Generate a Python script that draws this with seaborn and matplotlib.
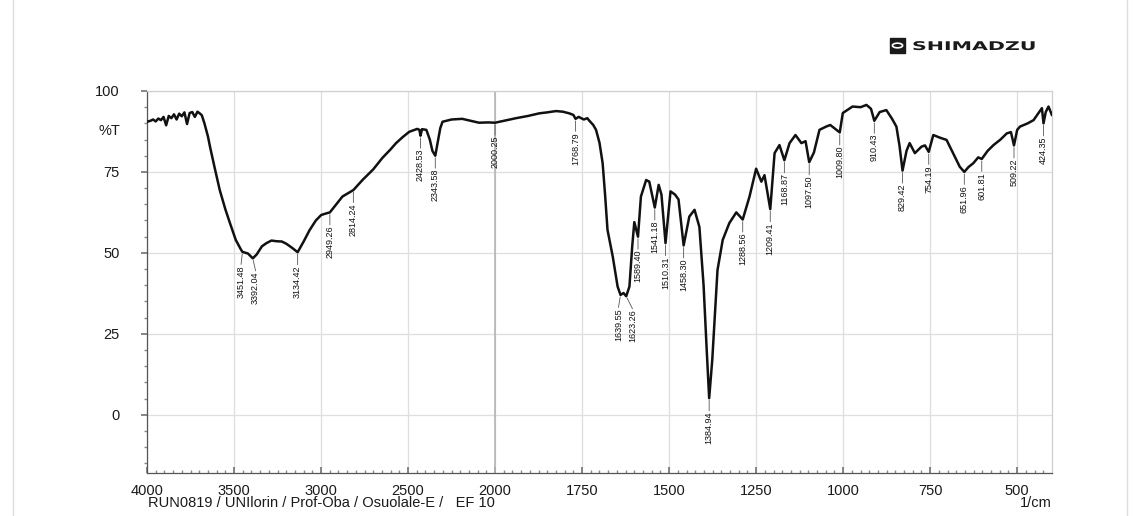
import numpy as np
import pandas as pd
import matplotlib
matplotlib.use("Agg")
import matplotlib.pyplot as plt
import seaborn as sns
from matplotlib.lines import Line2D
from matplotlib.patches import Rectangle, Circle, PathPatch
from matplotlib.textpath import TextPath
from matplotlib.font_manager import FontProperties
from matplotlib.transforms import Affine2D, IdentityTransform, blended_transform_factory

# spectrum (1/cm, %T)
wavenumber = [
    4000, 3980, 3965, 3950, 3935, 3920, 3905, 3890, 3875, 3860, 3845, 3830,
    3815, 3800, 3785, 3770, 3755, 3740, 3725, 3710, 3695, 3685, 3670, 3650,
    3638, 3610, 3582, 3550, 3524, 3490, 3460, 3451.48, 3420, 3392.04, 3370,
    3340, 3314, 3285, 3257, 3225, 3199, 3165, 3134.42, 3100, 3066, 3030, 2999,
    2970, 2949.26, 2920, 2877, 2840, 2814.24, 2762, 2700, 2648, 2600, 2569,
    2530, 2493, 2447, 2435, 2428.53, 2420, 2395, 2375, 2360, 2343.58, 2330,
    2315, 2302, 2250, 2189, 2140, 2092, 2040, 2000.25, 1970, 1940, 1905, 1873,
    1850, 1825, 1805, 1787, 1775, 1768.79, 1760, 1745, 1735, 1729, 1718, 1710,
    1700, 1691, 1684, 1677, 1662, 1648, 1639.55, 1631, 1623.26, 1614, 1606,
    1600, 1589.40, 1581, 1566, 1557, 1541.18, 1530, 1522, 1510.31, 1496, 1483,
    1473, 1458.30, 1442, 1427, 1413, 1401, 1392, 1384.94, 1376, 1361, 1346,
    1327, 1307, 1288.56, 1269, 1250, 1235, 1226, 1209.41, 1197, 1183, 1168.87,
    1154, 1137, 1120, 1108, 1097.50, 1084, 1068, 1049, 1037, 1025, 1009.80,
    1001, 973, 950, 933, 920, 910.43, 895, 876, 860, 847, 838, 829.42, 818,
    809, 794, 775, 765, 754.19, 741, 720, 703, 685, 665, 651.96, 640, 626, 612,
    601.81, 585, 568, 548, 530, 518, 509.22, 500, 492, 470, 453, 440, 429,
    424.35, 418, 410, 400,
]
transmittance = [
    90.5, 90.8, 91.2, 90.6, 91.5, 91.0, 92.0, 89.4, 92.3, 91.6, 92.8, 91.2,
    93.0, 92.2, 93.4, 89.8, 93.2, 93.5, 92.0, 93.6, 93.0, 92.5, 90.0, 86.0,
    82.8, 76.0, 69.4, 63.5, 59.3, 54.0, 51.0, 50.3, 49.8, 48.3, 49.5,
    52.0, 53.0, 53.8, 53.6, 53.5, 52.8, 51.5, 50.2, 53.5, 57.0, 60.0, 61.7,
    62.2, 62.5, 64.5, 67.4, 68.6, 69.4, 72.5, 75.8, 79.3, 82.0, 83.9,
    85.8, 87.4, 88.3, 88.0, 86.2, 88.2, 88.0, 85.0, 81.5, 80.0, 84.0,
    88.5, 90.5, 91.2, 91.4, 90.8, 90.2, 90.3, 90.2, 90.9, 91.6, 92.3, 93.1,
    93.4, 93.8, 93.6, 93.1, 92.6, 91.4, 92.0, 91.2, 91.6, 90.8, 89.5, 88.0,
    84.0, 77.7, 68.0, 57.1, 48.9, 39.6, 37.0, 37.6, 36.6, 39.6, 52.0,
    59.5, 55.0, 67.4, 72.5, 72.0, 64.0, 71.0, 68.0, 53.0, 69.0, 68.0,
    66.5, 52.3, 61.2, 63.3, 58.0, 40.0, 20.0, 5.1, 17.0, 44.7, 54.0,
    59.2, 62.5, 60.3, 67.4, 76.0, 72.0, 74.0, 63.5, 80.8, 83.3, 78.6,
    83.9, 86.4, 83.9, 84.5, 78.0, 81.0, 88.0, 89.0, 89.5, 88.5, 87.2,
    93.2, 95.2, 95.0, 95.7, 94.5, 90.8, 93.5, 94.1, 91.5, 89.0, 83.0, 75.4, 81.5,
    83.9, 80.8, 82.8, 83.2, 81.2, 86.4, 85.5, 84.9, 81.0, 76.6, 75.0, 76.5, 77.7, 79.5,
    79.0, 81.5, 83.3, 85.0, 86.9, 87.3, 83.2, 88.0, 89.0, 90.0, 91.0, 93.0, 94.7,
    90.0, 93.5, 95.2, 92.5,
]
peak_wn = [
    3451.48, 3392.04, 3134.42, 2949.26, 2814.24, 2428.53, 2343.58, 2000.25,
    1768.79, 1639.55, 1623.26, 1589.40, 1541.18, 1510.31, 1458.30, 1384.94,
    1288.56, 1209.41, 1168.87, 1097.50, 1009.80, 910.43, 829.42, 754.19,
    651.96, 601.81, 509.22, 424.35,
]
x_ticks = [4000, 3500, 3000, 2500, 2000, 1750, 1500, 1250, 1000, 750, 500]
y_ticks = [0, 25, 50, 75, 100]
run_info = "RUN0819 / UNIlorin / Prof-Oba / Osuolale-E /   EF 10"

df = pd.DataFrame({"wavenumber": wavenumber, "transmittance": transmittance})

sns.set_theme(style="white")
plt.rcParams["font.family"] = ["Liberation Sans", "DejaVu Sans"]

W, H = 1134, 516
fig = plt.figure(figsize=(W / 100, H / 100), dpi=100)
fig.patch.set_facecolor("white")
ax = fig.add_axes([147 / W, 1 - 473 / H, (1052 - 147) / W, (473 - 91) / H])


# shimadzu style axis: above 2000 1/cm at half scale
def fwd(x):
    x = np.asarray(x, dtype=float)
    return np.where(x > 2000, 2000 + (x - 2000) / 2, x)


def inv(x):
    x = np.asarray(x, dtype=float)
    return np.where(x > 2000, 2000 + (x - 2000) * 2, x)


ax.set_xscale("function", functions=(fwd, inv))

sns.lineplot(
    data=df, x="wavenumber", y="transmittance", sort=False, estimator=None,
    color="#111111", linewidth=1.8, ax=ax, zorder=3,
)
ax.set_xlim(4000, 400)
ax.set_ylim(-18, 100)
ax.set_xlabel("")
ax.set_ylabel("")

ax.set_xticks(x_ticks)
ax.set_xticklabels([str(t) for t in x_ticks])
minor_x = list(range(3950, 2000, -50)) + list(range(1975, 400, -25))
ax.set_xticks(minor_x, minor=True)
ax.set_yticks(y_ticks)
ax.set_yticklabels([str(t) for t in y_ticks])
ax.set_yticks(range(-15, 100, 5), minor=True)

ax.grid(True, which="major", color="#dedede", linewidth=0.9, zorder=0)
ax.axvline(2000, color="#b5b5b5", linewidth=1.2, zorder=1)
ax.tick_params(axis="x", which="major", direction="in", length=4, color="#777777",
               labelsize=10.5, pad=8, labelcolor="#1a1a1a")
ax.tick_params(axis="x", which="minor", direction="in", length=2.5, color="#888888")
ax.tick_params(axis="y", which="major", direction="out", length=4, color="#777777",
               labelsize=10.5, pad=15.5, labelcolor="#1a1a1a")
ax.tick_params(axis="y", which="minor", direction="out", length=2.5, color="#888888")
ax.tick_params(bottom=True, left=True, which="both")
for side in ["left", "bottom"]:
    ax.spines[side].set_color("#555555")
    ax.spines[side].set_linewidth(0.9)
for side in ["top", "right"]:
    ax.spines[side].set_color("#cfcfcf")
    ax.spines[side].set_linewidth(0.9)

trans = blended_transform_factory(ax.transAxes, ax.transData)
ax.text(-0.0298, 87.5, "%T", transform=trans, ha="right", va="center",
        fontsize=10.5, color="#1a1a1a")

# peak labels hanging under each minimum
label_shift = {1639.55: -1.5, 1623.26: 4.5, 3451.48: -1, 3392.04: 2}
for wn in peak_wn:
    t = float(np.interp(wn, wavenumber[::-1], transmittance[::-1]))
    dx = label_shift.get(wn, 0)
    ax.annotate("", xy=(wn, t), xytext=(dx, -9), textcoords="offset points",
                arrowprops=dict(arrowstyle="-", color="#555555", lw=0.6,
                                shrinkA=0, shrinkB=1.5))
    ax.annotate(f"{wn:.2f}", xy=(wn, t), xytext=(dx, -9.5),
                textcoords="offset points", rotation=90, ha="center", va="top",
                fontsize=6.5, color="#111111")

fig.text(148 / W, 1 - 503 / H, run_info, ha="left", va="center", fontsize=10.5,
         color="#1a1a1a")
fig.text(1052 / W, 1 - 503 / H, "1/cm", ha="right", va="center", fontsize=10.5,
         color="#1a1a1a")

# logo
logo = TextPath((0, 0), "SHIMADZU", size=12,
                prop=FontProperties(family="DejaVu Sans", weight="bold"))
fig.patches.append(PathPatch(
    logo, transform=Affine2D().scale(1.71, 1.0).translate(912, H - 50) + IdentityTransform(),
    color="#1a1a1a", lw=0))
fig.patches.append(Rectangle((890 / W, 1 - 53 / H), 15 / W, 15 / H,
                             transform=fig.transFigure, facecolor="#1a1a1a",
                             edgecolor="#1a1a1a"))
fig.patches.append(Circle((897.5 / W, 1 - 45.5 / H), 0.0045,
                          transform=fig.transFigure, facecolor="none",
                          edgecolor="white", lw=1.2))

# faint page border
for xp in [13, 1127]:
    fig.add_artist(Line2D([xp / W, xp / W], [0, 1], transform=fig.transFigure,
                          color="#dddddd", lw=1))

fig.savefig("out.png", dpi=100)
